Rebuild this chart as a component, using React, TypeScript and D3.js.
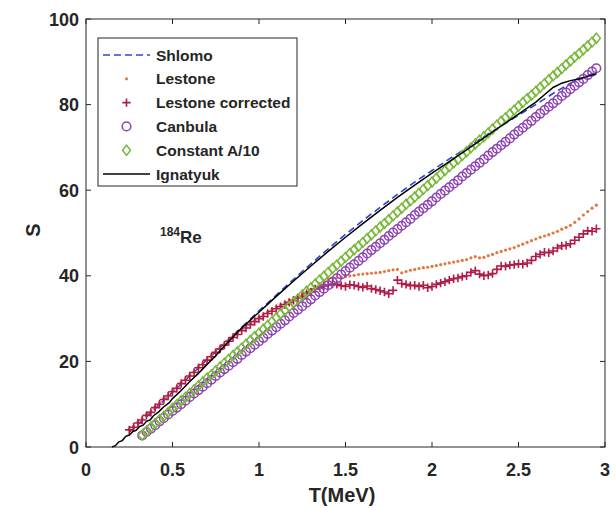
import React from "react";
import * as d3 from "d3";

// ---- data ----
const xTicks = [0, 0.5, 1, 1.5, 2, 2.5, 3];
const xTickLabels = ["0", "0.5", "1", "1.5", "2", "2.5", "3"];
const yTicks = [0, 20, 40, 60, 80, 100];
const yTickLabels = ["0", "20", "40", "60", "80", "100"];

// temperature grids (regular grids of the original calculation)
const tGridA = d3.range(0, 106).map((k) => +(0.325 + 0.025 * k).toFixed(3)); // Canbula, Constant A/10
const tGridB = d3.range(0, 109).map((k) => +(0.25 + 0.025 * k).toFixed(3)); // Lestone, Lestone corrected

const canbulaS = [
  2.7, 3.5, 4.3, 5.1, 6.0, 6.8, 7.6, 8.4, 9.2, 10.0, 10.8, 11.7, 12.5, 13.3, 14.1, 14.9, 15.7, 16.6, 17.4, 18.2,
  19.0, 19.8, 20.6, 21.5, 22.3, 23.1, 23.9, 24.7, 25.5, 26.4, 27.2, 28.0, 28.8, 29.6, 30.5, 31.3, 32.1, 32.9, 33.7, 34.5,
  35.4, 36.2, 37.0, 37.8, 38.6, 39.4, 40.3, 41.1, 41.9, 42.7, 43.5, 44.3, 45.2, 46.0, 46.8, 47.6, 48.4, 49.3, 50.1, 50.9,
  51.7, 52.5, 53.3, 54.2, 55.0, 55.8, 56.6, 57.4, 58.3, 59.1, 59.9, 60.7, 61.5, 62.3, 63.2, 64.0, 64.8, 65.6, 66.4, 67.2,
  68.1, 68.9, 69.7, 70.5, 71.3, 72.1, 73.0, 73.8, 74.6, 75.4, 76.2, 77.1, 77.9, 78.7, 79.5, 80.3, 81.1, 82.0, 82.8, 83.6,
  84.4, 85.2, 86.0, 86.9, 87.7, 88.5,
];

const constantS = [
  2.8, 3.7, 4.6, 5.5, 6.4, 7.2, 8.1, 9.0, 9.9, 10.8, 11.6, 12.5, 13.4, 14.3, 15.2, 16.1, 16.9, 17.8, 18.7, 19.6,
  20.5, 21.4, 22.2, 23.1, 24.0, 24.9, 25.8, 26.6, 27.5, 28.4, 29.3, 30.2, 31.1, 31.9, 32.8, 33.7, 34.6, 35.5, 36.4, 37.2,
  38.1, 39.0, 39.9, 40.8, 41.7, 42.5, 43.4, 44.3, 45.2, 46.1, 46.9, 47.8, 48.7, 49.6, 50.5, 51.4, 52.2, 53.1, 54.0, 54.9,
  55.8, 56.7, 57.5, 58.4, 59.3, 60.2, 61.1, 61.9, 62.8, 63.7, 64.6, 65.5, 66.4, 67.2, 68.1, 69.0, 69.9, 70.8, 71.7, 72.5,
  73.4, 74.3, 75.2, 76.1, 76.9, 77.8, 78.7, 79.6, 80.5, 81.4, 82.2, 83.1, 84.0, 84.9, 85.8, 86.7, 87.5, 88.4, 89.3, 90.2,
  91.1, 91.9, 92.8, 93.7, 94.6, 95.5,
];

const lestoneCorrS = [
  4.0, 4.6, 5.6, 6.3, 7.4, 8.1, 9.2, 10.0, 11.1, 11.9, 12.9, 13.7, 14.8, 15.6, 16.6, 17.4, 18.5, 19.2, 20.3, 21.1,
  22.1, 22.9, 23.8, 24.7, 25.6, 26.3, 27.2, 27.8, 28.6, 29.3, 30.0, 30.5, 31.2, 31.7, 32.3, 32.8, 33.3, 33.8, 34.3, 34.8,
  35.2, 35.8, 36.2, 36.9, 37.3, 37.6, 37.8, 38.1, 38.0, 37.7, 37.5, 37.9, 37.8, 37.5, 37.3, 37.6, 37.0, 36.8, 36.5, 36.2,
  35.8, 36.6, 39.0, 38.2, 38.0, 37.7, 37.8, 37.5, 37.8, 37.2, 37.5, 38.0, 38.3, 38.6, 39.0, 39.3, 39.5, 39.8, 40.0, 40.8,
  41.2, 40.4, 40.0, 40.2, 40.5, 41.5, 42.3, 42.2, 42.5, 42.6, 42.8, 42.7, 43.0, 43.6, 44.5, 45.0, 45.5, 45.4, 45.8, 46.5,
  47.0, 47.1, 47.5, 48.3, 49.0, 49.8, 50.5, 50.4, 51.0,
];

const lestoneS = [
  4.2, 4.9, 5.9, 6.6, 7.7, 8.4, 9.5, 10.3, 11.4, 12.2, 13.2, 14.0, 15.1, 15.9, 16.9, 17.7, 18.8, 19.5, 20.6, 21.4,
  22.4, 23.2, 24.1, 25.0, 25.9, 26.6, 27.5, 28.1, 28.9, 29.6, 30.3, 30.9, 31.5, 32.1, 32.7, 33.2, 33.7, 34.3, 34.8, 35.2,
  35.6, 36.2, 36.8, 37.5, 38.2, 38.8, 39.3, 39.5, 39.6, 39.7, 39.8, 40.0, 40.1, 40.3, 40.4, 40.5, 40.6, 40.7, 40.8, 41.0,
  41.2, 41.4, 41.5, 40.7, 41.0, 41.3, 41.5, 41.7, 41.9, 42.0, 42.2, 42.4, 42.6, 42.8, 43.0, 43.2, 43.4, 43.6, 43.8, 44.2,
  44.5, 44.2, 44.3, 44.7, 45.0, 45.4, 45.7, 46.0, 46.3, 46.6, 47.0, 47.4, 47.8, 48.2, 48.6, 49.0, 49.3, 49.6, 50.0, 50.4,
  50.9, 51.3, 51.8, 52.5, 53.3, 54.2, 55.0, 55.8, 56.5,
];

const shlomoT = [0.25, 0.3, 0.4, 0.5, 0.6, 0.7, 0.8, 0.9, 1.0, 1.1, 1.2, 1.3, 1.4, 1.5, 1.6, 1.7, 1.8, 1.9, 2.0, 2.1, 2.2, 2.3, 2.4, 2.5, 2.6, 2.7, 2.8, 2.9, 2.95];
const shlomoS = [3.5, 5.2, 9.0, 12.8, 16.6, 20.4, 24.2, 28.0, 31.8, 35.5, 39.2, 42.8, 46.3, 49.7, 52.9, 56.0, 59.0, 61.9, 64.6, 67.3, 69.9, 72.5, 75.0, 77.5, 80.0, 82.6, 85.0, 86.8, 87.6];

const ignatyukT = [0.15, 0.17, 0.19, 0.21, 0.23, 0.25, 0.27, 0.29, 0.31, 0.33, 0.35, 0.37, 0.39, 0.42, 0.45, 0.48, 0.5, 0.55, 0.6, 0.65, 0.7, 0.75, 0.8, 0.85, 0.9, 1.0, 1.1, 1.2, 1.3, 1.4, 1.5, 1.6, 1.7, 1.8, 1.9, 2.0, 2.1, 2.2, 2.3, 2.4, 2.5, 2.6, 2.65, 2.7, 2.75, 2.8, 2.85, 2.9, 2.95];
const ignatyukS = [0.0, 0.3, 1.2, 1.5, 2.5, 2.8, 3.6, 3.9, 4.8, 5.1, 6.0, 6.3, 7.3, 8.2, 9.4, 10.3, 11.3, 13.2, 15.3, 17.2, 19.3, 21.3, 23.6, 25.7, 27.8, 31.5, 35.2, 38.8, 42.3, 45.7, 49.0, 52.2, 55.3, 58.3, 61.2, 64.0, 66.7, 69.4, 72.2, 75.0, 77.8, 80.6, 82.3, 84.0, 85.0, 85.6, 86.0, 86.6, 87.2];

const legendLabels = ["Shlomo", "Lestone", "Lestone corrected", "Canbula", "Constant A/10", "Ignatyuk"];

// ---- styles ----
const C_BLUE = "#2f47d2";
const C_ORANGE = "#e07a3e";
const C_RED = "#b01c48";
const C_PURPLE = "#8d42b5";
const C_GREEN = "#79b83a";
const C_AXIS = "#262626";
const FONT = "'Liberation Sans', Arial, sans-serif";

const W = 616;
const H = 508;
const x = d3.scaleLinear().domain([0, 3]).range([86, 605]);
const y = d3.scaleLinear().domain([0, 100]).range([447, 19]);

const line = d3
  .line<[number, number]>()
  .x((d) => x(d[0]))
  .y((d) => y(d[1]));

function Cross({ cx, cy, s, color }: { cx: number; cy: number; s: number; color: string }) {
  return (
    <path d={`M${cx - s},${cy}H${cx + s}M${cx},${cy - s}V${cy + s}`} stroke={color} strokeWidth={1.6} fill="none" />
  );
}
function Diamond({ cx, cy, s, color }: { cx: number; cy: number; s: number; color: string }) {
  return (
    <path
      d={`M${cx},${cy - s}L${cx + s * 0.8},${cy}L${cx},${cy + s}L${cx - s * 0.8},${cy}Z`}
      stroke={color}
      strokeWidth={1.5}
      fill="none"
    />
  );
}

export default function App() {
  const shlomoData = shlomoT.map((t, i) => [t, shlomoS[i]] as [number, number]);
  const ignData = ignatyukT.map((t, i) => [t, ignatyukS[i]] as [number, number]);
  const x0 = x(0), x1 = x(3), y0 = y(0), y1 = y(100);
  const tl = 5;
  const legX = 98, legY = 38, legW = 199, legH = 148;
  const rowY = (i: number) => 55 + i * 23.8;
  const lx0 = 103, lx1 = 150, lmx = 126.5, ltx = 156;

  return (
    <svg width={W} height={H} style={{ position: "absolute", left: 0, top: 0, display: "block", background: "#fff" }}>
      <rect x={0} y={0} width={W} height={H} fill="#fff" />
      {/* data */}
      <path d={line(shlomoData) || ""} stroke={C_BLUE} strokeWidth={1.6} strokeDasharray="7,4" fill="none" />
      <g>
        {tGridB.map((t, i) => (
          <circle key={"lo" + i} cx={x(t)} cy={y(lestoneS[i])} r={1.6} fill={C_ORANGE} />
        ))}
      </g>
      <g>
        {tGridB.map((t, i) => (
          <Cross key={"lc" + i} cx={x(t)} cy={y(lestoneCorrS[i])} s={4.2} color={C_RED} />
        ))}
      </g>
      <g>
        {tGridA.map((t, i) => (
          <circle key={"cb" + i} cx={x(t)} cy={y(canbulaS[i])} r={4.3} fill="none" stroke={C_PURPLE} strokeWidth={1.5} />
        ))}
      </g>
      <g>
        {tGridA.map((t, i) => (
          <Diamond key={"ca" + i} cx={x(t)} cy={y(constantS[i])} s={5} color={C_GREEN} />
        ))}
      </g>
      <path d={line(ignData) || ""} stroke="#000" strokeWidth={1.5} fill="none" />

      {/* axes box */}
      <rect x={x0} y={y1} width={x1 - x0} height={y0 - y1} fill="none" stroke={C_AXIS} strokeWidth={1} />
      {xTicks.map((t, i) => (
        <g key={"xt" + i}>
          <line x1={x(t)} x2={x(t)} y1={y0} y2={y0 - tl} stroke={C_AXIS} />
          <line x1={x(t)} x2={x(t)} y1={y1} y2={y1 + tl} stroke={C_AXIS} />
          <text x={x(t)} y={476} textAnchor="middle" fontFamily={FONT} fontWeight="bold" fontSize={18} fill={C_AXIS}>
            {xTickLabels[i]}
          </text>
        </g>
      ))}
      {yTicks.map((t, i) => (
        <g key={"yt" + i}>
          <line x1={x0} x2={x0 + tl} y1={y(t)} y2={y(t)} stroke={C_AXIS} />
          <line x1={x1} x2={x1 - tl} y1={y(t)} y2={y(t)} stroke={C_AXIS} />
          <text x={79} y={y(t) + 6.5} textAnchor="end" fontFamily={FONT} fontWeight="bold" fontSize={18} fill={C_AXIS}>
            {yTickLabels[i]}
          </text>
        </g>
      ))}
      <text x={342} y={502} textAnchor="middle" fontFamily={FONT} fontWeight="bold" fontSize={20} fill={C_AXIS}>
        T(MeV)
      </text>
      <text
        transform={`translate(40,230) rotate(-90)`}
        textAnchor="middle"
        fontFamily={FONT}
        fontWeight="bold"
        fontSize={20}
        fill={C_AXIS}
      >
        S
      </text>
      <text x={160} y={243} fontFamily={FONT} fontWeight="bold" fill={C_AXIS}>
        <tspan fontSize={12} dy={-7}>184</tspan>
        <tspan fontSize={17} dy={7}>Re</tspan>
      </text>

      {/* legend */}
      <rect x={legX} y={legY} width={legW} height={legH} fill="#fff" stroke={C_AXIS} strokeWidth={1} />
      <line x1={lx0} x2={lx1} y1={rowY(0)} y2={rowY(0)} stroke={C_BLUE} strokeWidth={1.6} strokeDasharray="7,4" />
      <circle cx={lmx} cy={rowY(1)} r={1.6} fill={C_ORANGE} />
      <Cross cx={lmx} cy={rowY(2)} s={4.2} color={C_RED} />
      <circle cx={lmx} cy={rowY(3)} r={4.3} fill="none" stroke={C_PURPLE} strokeWidth={1.5} />
      <Diamond cx={lmx} cy={rowY(4)} s={5} color={C_GREEN} />
      <line x1={lx0} x2={lx1} y1={rowY(5)} y2={rowY(5)} stroke="#000" strokeWidth={1.5} />
      {legendLabels.map((l, i) => (
        <text key={"lg" + i} x={ltx} y={rowY(i) + 5.5} fontFamily={FONT} fontWeight="bold" fontSize={15.5} fill={C_AXIS}>
          {l}
        </text>
      ))}
    </svg>
  );
}
